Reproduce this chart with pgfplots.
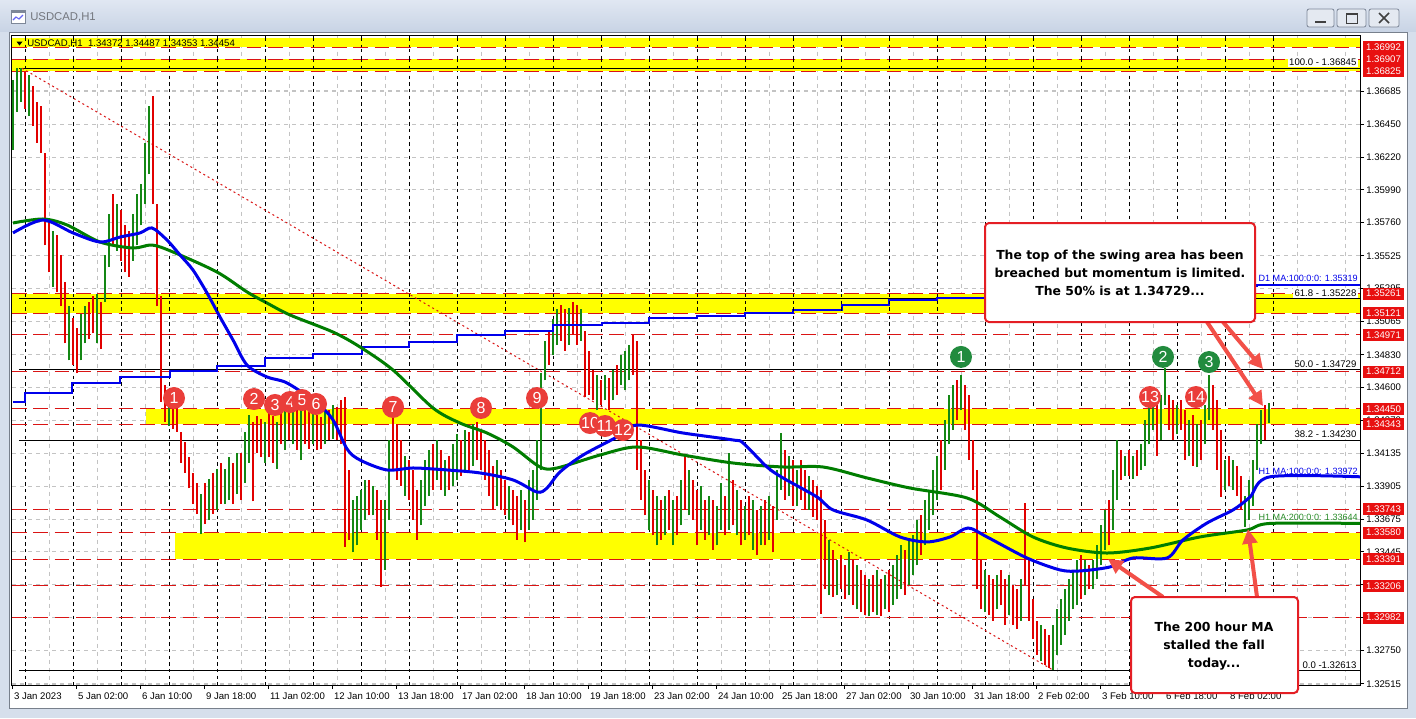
\documentclass[border=0pt]{standalone}
\usepackage{fontspec}
\setmainfont{Liberation Sans}
\newfontfamily\dejavu{DejaVu Sans}
\usepackage{pgfplots}
\pgfplotsset{compat=1.18}
\usepackage{pgfplotstable}
\usetikzlibrary{arrows.meta}

\definecolor{chromebg}{RGB}{214,223,236}
\definecolor{titletop}{RGB}{224,231,242}
\definecolor{titlebot}{RGB}{201,212,229}
\definecolor{framegray}{RGB}{120,128,140}
\definecolor{titlegray}{RGB}{115,118,125}
\definecolor{btnfill}{RGB}{228,233,241}
\definecolor{btnborder}{RGB}{125,135,152}
\definecolor{levred}{RGB}{218,20,20}
\definecolor{boxred}{RGB}{232,16,16}
\definecolor{barg}{RGB}{20,135,20}
\definecolor{barr}{RGB}{225,0,0}
\definecolor{mablue}{RGB}{0,0,235}
\definecolor{magreen}{RGB}{0,125,0}
\definecolor{labgreen}{RGB}{40,140,40}
\definecolor{circred}{RGB}{234,62,58}
\definecolor{circgreen}{RGB}{34,139,62}
\definecolor{arrowred}{RGB}{242,80,72}
\definecolor{annred}{RGB}{228,30,36}
\definecolor{gridgray}{RGB}{195,195,195}
\definecolor{yel}{RGB}{255,255,0}

\tikzset{
  pricebox/.style={fill=boxred, text=white, inner sep=0pt, minimum width=30.75pt, minimum height=9pt, font=\fontsize{7.2}{8}\selectfont},
  numc/.style={circle, text=white, minimum size=16.5pt, inner sep=0pt, font=\fontsize{12}{12}\selectfont},
}

\pgfplotstableread{
x lo hi
13 1.3627 1.3676
17 1.3654 1.3685
21 1.3661 1.3685
29 1.3651 1.3680
53 1.3531 1.3570
69 1.3479 1.3517
81 1.3479 1.3512
85 1.3491 1.3517
97 1.3491 1.3526
105 1.3520 1.3553
109 1.3545 1.3582
117 1.3556 1.3589
133 1.3549 1.3582
137 1.3560 1.3596
141 1.3574 1.3603
145 1.3589 1.3632
149 1.3610 1.3658
169 1.3433 1.3458
201 1.3357 1.3385
209 1.3367 1.3396
217 1.3374 1.3403
225 1.3378 1.3403
229 1.3381 1.3411
237 1.3385 1.3414
245 1.3393 1.3429
249 1.3407 1.3441
265 1.3407 1.3436
277 1.3403 1.3436
285 1.3416 1.3444
293 1.3420 1.3451
301 1.3409 1.3444
313 1.3420 1.3444
325 1.3420 1.3443
333 1.3424 1.3448
353 1.3344 1.3381
357 1.3349 1.3384
361 1.3360 1.3388
365 1.3367 1.3395
373 1.3370 1.3391
385 1.3332 1.3381
389 1.3367 1.3423
405 1.3384 1.3412
421 1.3363 1.3395
425 1.3377 1.3409
429 1.3384 1.3416
437 1.3395 1.3423
445 1.3384 1.3409
453 1.3391 1.3420
457 1.3395 1.3427
465 1.3402 1.3430
473 1.3405 1.3434
497 1.3377 1.3409
509 1.3367 1.3391
521 1.3360 1.3388
529 1.3360 1.3395
533 1.3367 1.3402
537 1.3381 1.3423
541 1.3402 1.3470
545 1.3465 1.3493
553 1.3483 1.3508
557 1.3490 1.3515
569 1.3490 1.3516
581 1.3493 1.3515
597 1.3444 1.3469
605 1.3451 1.3469
613 1.3451 1.3472
621 1.3462 1.3483
625 1.3458 1.3486
629 1.3465 1.3490
649 1.3360 1.3395
657 1.3349 1.3384
665 1.3356 1.3384
673 1.3349 1.3381
681 1.3363 1.3395
689 1.3370 1.3402
701 1.3360 1.3391
709 1.3356 1.3384
717 1.3349 1.3377
721 1.3360 1.3393
729 1.3360 1.3414
737 1.3356 1.3388
745 1.3353 1.3377
753 1.3346 1.3381
761 1.3349 1.3377
769 1.3353 1.3384
777 1.3367 1.3402
781 1.3388 1.3428
789 1.3384 1.3412
797 1.3377 1.3402
809 1.3374 1.3398
829 1.3314 1.3353
837 1.3314 1.3339
849 1.3314 1.3344
857 1.3304 1.3335
869 1.3299 1.3325
877 1.3300 1.3332
885 1.3304 1.3328
893 1.3307 1.3335
897 1.3311 1.3342
901 1.3318 1.3349
909 1.3321 1.3353
913 1.3328 1.3356
917 1.3335 1.3367
925 1.3349 1.3381
929 1.3360 1.3388
933 1.3370 1.3402
937 1.3381 1.3412
945 1.3402 1.3437
949 1.3420 1.3455
953 1.3430 1.3462
961 1.3444 1.3469
985 1.3302 1.3332
997 1.3304 1.3328
1009 1.3300 1.3328
1021 1.3296 1.3325
1041 1.3268 1.3293
1053 1.3261 1.3293
1057 1.3272 1.3304
1061 1.3279 1.3311
1065 1.3286 1.3318
1069 1.3296 1.3325
1073 1.3304 1.3332
1077 1.3307 1.3339
1085 1.3314 1.3339
1093 1.3318 1.3339
1097 1.3325 1.3349
1101 1.3335 1.3363
1105 1.3346 1.3374
1113 1.3360 1.3402
1117 1.3381 1.3423
1125 1.3398 1.3412
1133 1.3396 1.3412
1141 1.3402 1.3420
1145 1.3405 1.3437
1149 1.3420 1.3451
1153 1.3430 1.3458
1161 1.3423 1.3455
1165 1.3448 1.3474
1177 1.3427 1.3448
1189 1.3412 1.3437
1197 1.3404 1.3434
1205 1.3420 1.3448
1209 1.3437 1.3469
1225 1.3388 1.3409
1233 1.3388 1.3409
1245 1.3362 1.3384
1249 1.3367 1.3395
1253 1.3377 1.3409
1257 1.3402 1.3434
1261 1.3420 1.3444
1269 1.3435 1.3449
}\greenbars

\pgfplotstableread{
x lo hi
25 1.3656 1.3682
33 1.3644 1.3672
37 1.3632 1.3661
41 1.3625 1.3658
45 1.3560 1.3625
49 1.3541 1.3577
57 1.3527 1.3567
61 1.3517 1.3553
65 1.3491 1.3534
73 1.3476 1.3509
77 1.3470 1.3502
89 1.3494 1.3520
93 1.3498 1.3524
101 1.3487 1.3520
113 1.3560 1.3596
121 1.3549 1.3585
125 1.3541 1.3574
129 1.3538 1.3570
153 1.3589 1.3665
157 1.3517 1.3589
161 1.3450 1.3524
165 1.3436 1.3462
173 1.3431 1.3455
177 1.3429 1.3450
181 1.3407 1.3429
185 1.3400 1.3422
189 1.3389 1.3411
193 1.3378 1.3400
197 1.3371 1.3393
205 1.3364 1.3393
213 1.3371 1.3400
221 1.3378 1.3407
233 1.3378 1.3407
241 1.3381 1.3414
253 1.3380 1.3436
257 1.3414 1.3440
261 1.3411 1.3438
269 1.3411 1.3443
273 1.3407 1.3440
281 1.3420 1.3448
289 1.3423 1.3450
297 1.3416 1.3448
305 1.3420 1.3446
309 1.3417 1.3443
317 1.3416 1.3441
321 1.3417 1.3439
329 1.3423 1.3444
337 1.3423 1.3446
341 1.3420 1.3451
345 1.3348 1.3453
349 1.3353 1.3402
369 1.3370 1.3395
377 1.3353 1.3388
381 1.3320 1.3381
393 1.3402 1.3439
397 1.3395 1.3434
401 1.3391 1.3423
409 1.3381 1.3409
413 1.3367 1.3402
417 1.3353 1.3388
433 1.3388 1.3420
441 1.3388 1.3416
449 1.3388 1.3412
461 1.3398 1.3423
469 1.3402 1.3429
477 1.3409 1.3436
481 1.3402 1.3430
485 1.3395 1.3423
489 1.3384 1.3416
493 1.3374 1.3405
501 1.3374 1.3402
505 1.3370 1.3395
513 1.3363 1.3388
517 1.3353 1.3384
525 1.3351 1.3381
549 1.3476 1.3500
561 1.3493 1.3518
565 1.3486 1.3515
573 1.3497 1.3520
577 1.3490 1.3518
585 1.3453 1.3500
589 1.3455 1.3486
593 1.3451 1.3472
601 1.3448 1.3465
609 1.3444 1.3467
617 1.3455 1.3476
633 1.3469 1.3497
637 1.3402 1.3493
641 1.3381 1.3423
645 1.3370 1.3402
653 1.3356 1.3388
661 1.3353 1.3381
669 1.3360 1.3388
677 1.3356 1.3384
685 1.3374 1.3412
693 1.3367 1.3395
697 1.3349 1.3388
705 1.3353 1.3381
713 1.3346 1.3381
725 1.3356 1.3384
733 1.3363 1.3395
741 1.3349 1.3381
749 1.3356 1.3384
757 1.3342 1.3374
765 1.3349 1.3381
773 1.3344 1.3377
785 1.3381 1.3416
793 1.3377 1.3409
801 1.3381 1.3409
805 1.3374 1.3402
813 1.3369 1.3395
817 1.3367 1.3391
821 1.3301 1.3388
825 1.3318 1.3367
833 1.3313 1.3346
841 1.3318 1.3342
845 1.3311 1.3335
853 1.3307 1.3339
861 1.3302 1.3332
865 1.3300 1.3328
873 1.3302 1.3328
881 1.3299 1.3325
889 1.3302 1.3332
905 1.3314 1.3346
921 1.3342 1.3370
941 1.3388 1.3423
957 1.3437 1.3465
965 1.3430 1.3462
969 1.3409 1.3455
973 1.3388 1.3423
977 1.3318 1.3402
981 1.3304 1.3339
989 1.3300 1.3328
993 1.3296 1.3325
1001 1.3307 1.3332
1005 1.3293 1.3325
1013 1.3293 1.3321
1017 1.3290 1.3318
1025 1.3321 1.3379
1029 1.3296 1.3339
1033 1.3283 1.3311
1037 1.3272 1.3296
1045 1.3265 1.3290
1049 1.3263 1.3286
1081 1.3311 1.3342
1089 1.3318 1.3335
1109 1.3349 1.3381
1121 1.3395 1.3416
1129 1.3398 1.3416
1137 1.3398 1.3416
1157 1.3412 1.3451
1169 1.3430 1.3455
1173 1.3423 1.3451
1181 1.3430 1.3451
1185 1.3409 1.3444
1193 1.3405 1.3441
1201 1.3409 1.3437
1213 1.3430 1.3462
1217 1.3402 1.3451
1221 1.3383 1.3430
1229 1.3391 1.3412
1237 1.3384 1.3405
1241 1.3374 1.3398
1265 1.3423 1.3448
}\redbars

\pgfplotstableread{
x v
13 1.35687
43 1.35778
73 1.35687
100 1.35623
120 1.35658
140 1.35687
152 1.35722
167 1.35637
180 1.35532
193 1.35426
207 1.35265
220 1.35096
233 1.34934
247 1.34758
267 1.34674
287 1.34632
317 1.34491
333 1.34372
347 1.34168
360 1.34090
387 1.34020
413 1.34034
447 1.34020
480 1.33999
513 1.33950
537 1.33865
547 1.33893
560 1.34006
583 1.34125
617 1.34252
637 1.34336
683 1.34280
733 1.34231
743 1.34210
767 1.34041
783 1.33964
817 1.33830
833 1.33739
867 1.33668
900 1.33549
927 1.33514
950 1.33549
968 1.33612
987 1.33549
1027 1.33401
1060 1.33317
1080 1.33310
1110 1.33338
1133 1.33401
1167 1.33401
1183 1.33528
1207 1.33647
1233 1.33739
1250 1.33830
1270 1.33972
1360 1.33972
}\maH

\pgfplotstableread{
x v
13 1.35757
43 1.35785
67 1.35743
100 1.35623
133 1.35581
152 1.35602
173 1.35553
217 1.35412
247 1.35272
267 1.35194
290 1.35110
333 1.34990
360 1.34885
393 1.34723
433 1.34456
460 1.34350
487 1.34280
513 1.34182
540 1.34041
557 1.34034
600 1.34125
637 1.34182
683 1.34125
733 1.34069
783 1.34041
823 1.34041
867 1.33964
910 1.33893
967 1.33823
1000 1.33689
1033 1.33549
1067 1.33471
1107 1.33436
1150 1.33471
1200 1.33549
1247 1.33598
1270 1.33644
1360 1.33644
}\maT

\pgfplotstableread{
x v
13 1.34498
25 1.34561
72 1.34632
120 1.34674
170 1.34716
217 1.34751
265 1.34808
313 1.34836
362 1.34885
409 1.34920
457 1.34969
505 1.34997
553 1.35040
602 1.35054
649 1.35089
697 1.35103
745 1.35124
793 1.35145
842 1.35180
889 1.35215
937 1.35232
985 1.35248
1033 1.35262
1081 1.35276
1129 1.35290
1177 1.35302
1225 1.35312
1257 1.35319
1360 1.35319
}\maD

\begin{document}
\begin{tikzpicture}
\begin{scope}[x=0.75pt,y=-0.75pt]
\useasboundingbox (0,0) rectangle (1416,718);
\fill[chromebg] (0,0) rectangle (1416,718);
\shade[top color=titletop, bottom color=titlebot] (0,0) rectangle (1416,31);
\fill[white] (9,32) rectangle (1407,708);
\draw[framegray, line width=0.75pt] (9,32) rectangle (1407,708);
% faint time grid and day separators (chart background)
\foreach \xx in {49.5,97.5,145.5,193.5,241.5,289.5,337.5,385.5,433.5,481.5,529.5,577.5,625.5,673.5,721.5,769.5,817.5,865.5,913.5,961.5,1009.5,1057.5,1105.5,1153.5,1201.5,1249.5,1297.5,1345.5}{
  \draw[gridgray, line width=0.8pt, dash pattern=on 3pt off 3pt] (\xx,35.5) -- (\xx,684.5);
}
\foreach \xx in {25.5,73.5,121.5,169.5,217.5,265.5,313.5,361.5,409.5,457.5,505.5,553.5,601.5,649.5,697.5,745.5,793.5,841.5,889.5,937.5,985.5,1033.5,1081.5,1129.5,1177.5,1225.5,1273.5}{
  \draw[black, line width=1pt, dash pattern=on 2.5pt off 2.5pt] (\xx,35.5) -- (\xx,684.5);
}
% title icon
\draw[btnborder, fill=white, line width=0.6pt] (11,10) rectangle (25,23);
\fill[btnborder] (11,10) rectangle (25,13);
\draw[mablue!60, line width=0.8pt] (13,20) -- (16,17) -- (19,19) -- (23,15);
\node[anchor=west, text=titlegray, font=\fontsize{8.5}{10}\selectfont, inner sep=0pt] at (30,17) {USDCAD,H1};
% window buttons
\draw[btnborder, fill=btnfill, rounded corners=1.5pt, line width=0.6pt] (1307,9) rectangle (1334,27);
\draw[btnborder, fill=btnfill, rounded corners=1.5pt, line width=0.6pt] (1337,9) rectangle (1366,27);
\draw[btnborder, fill=btnfill, rounded corners=1.5pt, line width=0.6pt] (1369,9) rectangle (1399,27);
\draw[black!75, line width=1.5pt] (1315,22) -- (1326,22);
\draw[black!75, line width=0.75pt] (1346,13) rectangle (1357,23);
\draw[black!75, line width=1.5pt] (1346,14) -- (1357,14);
\draw[black!75, line width=1.2pt] (1379,13) -- (1389,23) (1379,23) -- (1389,13);
\end{scope}

\begin{axis}[
  at={(9pt,-513.75pt)}, anchor=south west,
  scale only axis, width=1011pt, height=487.5pt,
  xmin=12, xmax=1360, ymin=1.325078, ymax=1.370788,
  clip=false,
  axis line style={black, line width=0.75pt},
  xtick pos=bottom, ytick pos=right, yticklabel pos=right,
  tick align=outside, major tick length=3pt,
  tick style={black, line width=0.75pt},
  xtick={12.5,76.5,140.5,204.5,268.5,332.5,396.5,460.5,524.5,588.5,652.5,716.5,780.5,844.5,908.5,972.5,1036.5,1100.5,1164.5,1228.5},
  xticklabels={3 Jan 2023,5 Jan 02:00,6 Jan 10:00,9 Jan 18:00,11 Jan 02:00,12 Jan 10:00,13 Jan 18:00,17 Jan 02:00,18 Jan 10:00,19 Jan 18:00,23 Jan 02:00,24 Jan 10:00,25 Jan 18:00,27 Jan 02:00,30 Jan 10:00,31 Jan 18:00,2 Feb 02:00,3 Feb 10:00,6 Feb 18:00,8 Feb 02:00},
  ytick={1.32515,1.32750,1.32985,1.33215,1.33445,1.33675,1.33905,1.34135,1.34370,1.34600,1.34830,1.35065,1.35295,1.35525,1.35760,1.35990,1.36220,1.36450,1.36685},
  yticklabels={1.32515,1.32750,1.32985,1.33215,1.33445,1.33675,1.33905,1.34135,1.34370,1.34600,1.34830,1.35065,1.35295,1.35525,1.35760,1.35990,1.36220,1.36450,1.36685},
  ymajorgrids=true,
  major y grid style={gridgray, line width=0.8pt, dash pattern=on 3pt off 3pt},
  ticklabel style={font=\fontsize{7.2}{8.5}\selectfont, text=black},
  xticklabel style={anchor=north west, inner sep=0pt, xshift=1pt, yshift=-2.5pt},
  yticklabel style={anchor=west, inner sep=0pt, xshift=1.5pt},
]
% yellow zones
\addplot[fill=yel, draw=none] coordinates {(12,1.36992) (1360,1.36992) (1360,1.37058) (12,1.37058)} -- cycle;
\addplot[fill=yel, draw=none] coordinates {(12,1.36825) (1360,1.36825) (1360,1.36907) (12,1.36907)} -- cycle;
\addplot[fill=yel, draw=none] coordinates {(12,1.35121) (1360,1.35121) (1360,1.35261) (12,1.35261)} -- cycle;
\addplot[fill=yel, draw=none] coordinates {(146,1.34343) (1360,1.34343) (1360,1.34450) (146,1.34450)} -- cycle;
\addplot[fill=yel, draw=none] coordinates {(175,1.33391) (1360,1.33391) (1360,1.33580) (175,1.33580)} -- cycle;
% red dashed levels
\pgfplotsinvokeforeach{1.36992,1.36907,1.36825,1.35261,1.35121,1.34971,1.34712,1.34450,1.34343,1.33743,1.33580,1.33391,1.33206,1.32982}{
  \addplot[levred, line width=0.75pt, dash pattern=on 11pt off 5pt] coordinates {(12,#1) (1360,#1)};
}
% fibonacci lines
\pgfplotsinvokeforeach{1.36845,1.35228,1.34729,1.34230,1.32613}{
  \addplot[black, line width=0.75pt] coordinates {(19,#1) (1360,#1)};
}
% trend line
\addplot[levred, line width=0.75pt, dash pattern=on 1.5pt off 2.25pt] coordinates {(22,1.36845) (1053,1.32613)};
% bars
\addplot[draw=none, mark=none, error bars/.cd, y dir=plus, y explicit, error mark=none,
  error bar style={line width=1.2pt, draw=barg, solid}]
  table[x=x, y=lo, y error expr=\thisrow{hi}-\thisrow{lo}] {\greenbars};
\addplot[draw=none, mark=none, error bars/.cd, y dir=plus, y explicit, error mark=none,
  error bar style={line width=1.2pt, draw=barr, solid}]
  table[x=x, y=lo, y error expr=\thisrow{hi}-\thisrow{lo}] {\redbars};
% moving averages
\addplot[const plot, mablue, line width=1.5pt] table[x=x, y=v] {\maD};
\addplot[smooth, tension=0.5, magreen, line width=2.25pt] table[x=x, y=v] {\maT};
\addplot[smooth, tension=0.5, mablue, line width=2.25pt] table[x=x, y=v] {\maH};
% numbered swing markers
\node[numc, fill=circred] at (axis cs:174,1.34526) {1};
\node[numc, fill=circred] at (axis cs:254,1.34519) {2};
\node[numc, fill=circred] at (axis cs:290,1.34498) {4};
\node[numc, fill=circred] at (axis cs:275,1.34477) {3};
\node[numc, fill=circred] at (axis cs:302,1.34512) {5};
\node[numc, fill=circred] at (axis cs:316,1.34484) {6};
\node[numc, fill=circred] at (axis cs:393,1.34463) {7};
\node[numc, fill=circred] at (axis cs:481,1.34456) {8};
\node[numc, fill=circred] at (axis cs:537,1.34526) {9};
\node[numc, fill=circred] at (axis cs:590,1.34350) {10};
\node[numc, fill=circred] at (axis cs:605,1.34329) {11};
\node[numc, fill=circred] at (axis cs:623,1.34301) {12};
\node[numc, fill=circred] at (axis cs:1150,1.34533) {13};
\node[numc, fill=circred] at (axis cs:1196,1.34533) {14};
\node[numc, fill=circgreen] at (axis cs:961,1.34815) {1};
\node[numc, fill=circgreen] at (axis cs:1163,1.34815) {2};
\node[numc, fill=circgreen] at (axis cs:1209,1.34779) {3};
\end{axis}

\begin{scope}[x=0.75pt,y=-0.75pt]
% day separators also visible across the yellow zones
\foreach \xx in {25.5,73.5,121.5,169.5,217.5,265.5,313.5,361.5,409.5,457.5,505.5,553.5,601.5,649.5,697.5,745.5,793.5,841.5,889.5,937.5,985.5,1033.5,1081.5,1129.5,1177.5,1225.5,1273.5}{
  \draw[black, line width=1pt, dash pattern=on 2.5pt off 2.5pt] (\xx,38) -- (\xx,47) (\xx,59) -- (\xx,71) (\xx,294) -- (\xx,313);
}
% price boxes on the right scale
\foreach \yy/\lab in {47.3/1.36992,59.4/1.36907,71.1/1.36825,293.5/1.35261,313.4/1.35121,334.7/1.34971,371.6/1.34712,408.8/1.34450,424.0/1.34343,509.3/1.33743,532.5/1.33580,559.4/1.33391,585.7/1.33206,617.6/1.32982}{
  \node[pricebox] at (1383.5,\yy) {\lab};
}
% chart header
\fill[black] (16.5,41.5) -- (22.5,41.5) -- (19.5,45.5) -- cycle;
\node[anchor=west, inner sep=0pt, font=\fontsize{7.2}{8.5}\selectfont] at (27,43.5) {USDCAD,H1\ \ 1.34372 1.34487 1.34353 1.34454};
% fibonacci labels
\node[anchor=south east, fill=white, inner sep=1pt, font=\fontsize{7.2}{8.5}\selectfont] at (1358,67.5) {100.0 - 1.36845};
\node[anchor=south east, fill=white, inner sep=1pt, font=\fontsize{7.2}{8.5}\selectfont] at (1358,298) {61.8 - 1.35228};
\node[anchor=south east, fill=white, inner sep=1pt, font=\fontsize{7.2}{8.5}\selectfont] at (1358,369.5) {50.0 - 1.34729};
\node[anchor=south east, fill=white, inner sep=1pt, font=\fontsize{7.2}{8.5}\selectfont] at (1358,439.5) {38.2 - 1.34230};
\node[anchor=south east, fill=white, inner sep=1pt, font=\fontsize{7.2}{8.5}\selectfont] at (1358,670) {0.0 -1.32613};
% MA labels
\node[anchor=base east, inner sep=0pt, text=mablue, font=\fontsize{6.8}{8}\selectfont] at (1358,281.5) {D1 MA:100:0:0: 1.35319};
\node[anchor=base east, inner sep=0pt, text=mablue, font=\fontsize{6.8}{8}\selectfont] at (1358,474) {H1 MA:100:0:0: 1.33972};
\node[anchor=base east, inner sep=0pt, text=labgreen, font=\fontsize{6.8}{8}\selectfont] at (1358,520) {H1 MA:200:0:0: 1.33644};
% arrows
\draw[arrowred, line width=3pt, -{Triangle[length=11pt,width=11pt]}] (1207,322) -- (1263,406);
\draw[arrowred, line width=3pt, -{Triangle[length=11pt,width=11pt]}] (1223,322) -- (1263,369);
\draw[arrowred, line width=3pt, -{Triangle[length=11pt,width=11pt]}] (1163,597) -- (1108,559);
\draw[arrowred, line width=3pt, -{Triangle[length=11pt,width=11pt]}] (1257,597) -- (1248,529);
% annotation boxes
\draw[annred, line width=1.5pt, fill=white, rounded corners=3pt] (985,223) rectangle (1255,322);
\node[align=center, font=\dejavu\bfseries\fontsize{9.3}{13.3}\selectfont] at (1120,273) {The top of the swing area has been\\breached but momentum is limited.\\The 50\% is at 1.34729...};
\draw[annred, line width=1.5pt, fill=white, rounded corners=3pt] (1131,597) rectangle (1298,693);
\node[align=center, font=\dejavu\bfseries\fontsize{9.3}{13.3}\selectfont] at (1214,646) {The 200 hour MA\\stalled the fall\\today...};
\end{scope}
\end{tikzpicture}
\end{document}
